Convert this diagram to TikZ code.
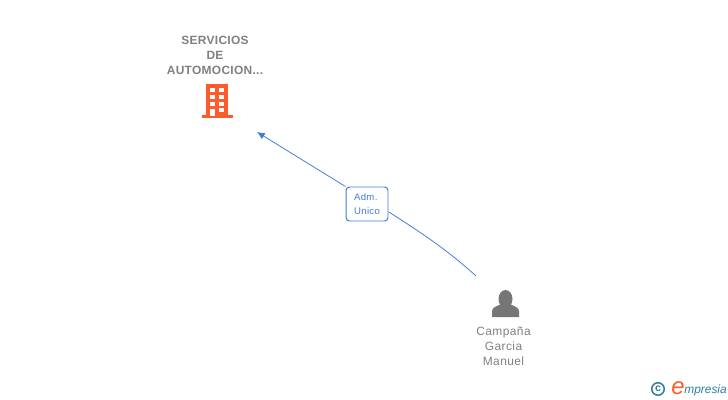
\documentclass[tikz,border=0pt]{standalone}
\usepackage{fontspec}
\setmainfont{Liberation Sans}
\newfontfamily\labelfont[LetterSpace=3.5]{Liberation Sans}
\newfontfamily\boldlabelfont[LetterSpace=2.5]{Liberation Sans}
\usetikzlibrary{arrows.meta,positioning}
\definecolor{txtgray}{HTML}{808080}
\definecolor{icongray}{HTML}{767676}
\definecolor{iconorange}{HTML}{FF5A2C}
\definecolor{linkblue}{HTML}{3B7DDD}
\definecolor{logoblue}{HTML}{2F7F9F}
\tikzset{
	entlabel/.style={text=txtgray,align=center,font=\labelfont\fontsize{8.5pt}{10.7pt}\selectfont},
	linkline/.style={linkblue,line width=0.55pt},
	rolebox/.style={draw=linkblue,line width=0.7pt,rounded corners=2.5pt,fill=white,text=linkblue,minimum width=42*0.711pt,minimum height=34*0.711pt,inner sep=0pt,align=left,font=\labelfont\fontsize{6.8pt}{10.7pt}\selectfont},
}

\begin{document}
\begin{tikzpicture}[x=0.025cm,y=-0.025cm]
	\useasboundingbox (0,0) rectangle (728,400);
	\coordinate(cargo) at (257,132);
	\coordinate(persona) at (476,276);

	\node[rolebox] (adm) at (367,204) {\raisebox{-0.5pt}{Adm.}\\Unico};
	\draw[-{Latex[length=5.5pt,width=5pt]},linkline] (adm.north west) -- (cargo);
	\draw[linkline] (persona) .. controls (445,248) and (420,232) .. ([yshift=-5.5pt]adm.east);

	\node[entlabel,font=\boldlabelfont\bfseries\fontsize{8.5pt}{10.7pt}\selectfont] (empresa) at (215,55) {SERVICIOS\\DE\\AUTOMOCION...};
	\node[entlabel] (nombre) at (503.5,346) {Campaña\\Garcia\\Manuel};

	% building
	\fill[iconorange] (206,84) rectangle (228,116);
	\fill[iconorange] (201.5,115.5) rectangle (233,118.5);
	\foreach \y in {88,95,102}{
		\fill[white] (210,\y) rectangle (214.5,\y+4);
		\fill[white] (219,\y) rectangle (223.5,\y+4);
	}
	\fill[white] (219,108) rectangle (223.5,112);
	\fill[white] (210,109) rectangle (214.5,116);

	% person
	\fill[icongray] (505.5,299) ellipse (7 and 9);
	\fill[icongray] (492,317) -- (492,311) .. controls (492,307) and (498,306) .. (501,304) -- (510,304) .. controls (513,306) and (519,307) .. (519,311) -- (519,317) -- cycle;

	% logo
	\node[draw=logoblue,circle,line width=1.1pt,minimum size=12.5*0.711pt,inner sep=0pt,text=logoblue,font=\bfseries\fontsize{7.5pt}{7.5pt}\selectfont] (copyr) at (658,389) {c};
	\node[text=iconorange,inner sep=0pt,font=\itshape\fontsize{17pt}{17pt}\selectfont] (logoe) at (678,388) {e};
	\node[text=logoblue,inner sep=0pt,anchor=west,font=\itshape\fontsize{8.5pt}{10pt}\selectfont] (logotxt) at (684,390) {mpresia};
\end{tikzpicture}
\end{document}
